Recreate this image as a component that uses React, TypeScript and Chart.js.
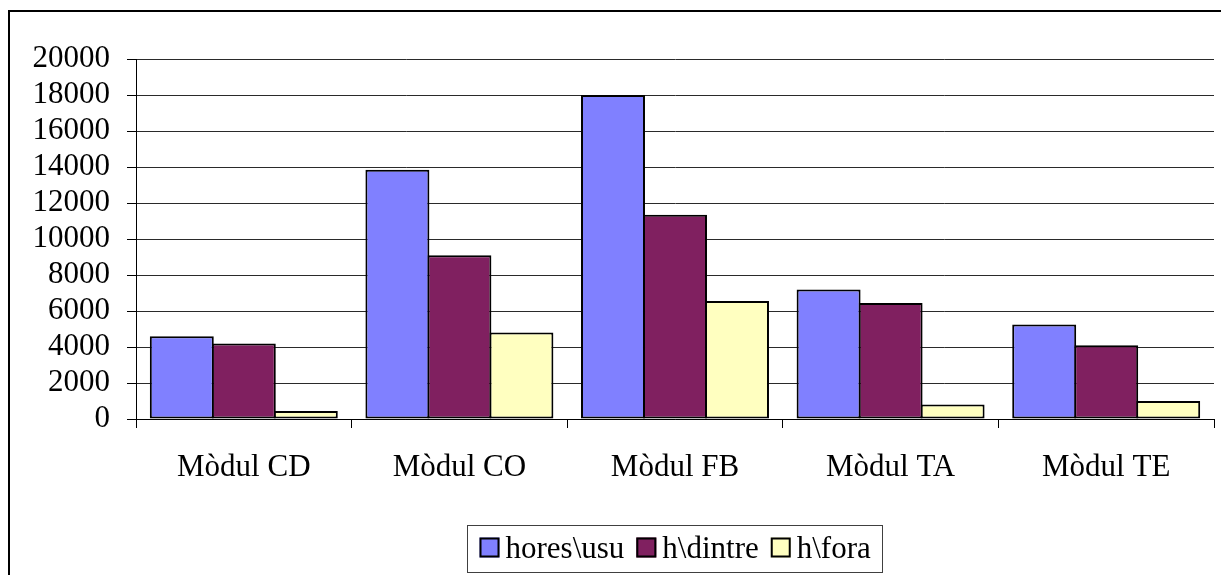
import React, { useEffect, useRef } from "react";
import { Chart, registerables } from "chart.js";

Chart.register(...registerables);

const categories = ["Mòdul CD", "Mòdul CO", "Mòdul FB", "Mòdul TA", "Mòdul TE"];
const seriesNames = ["hores\\usu", "h\\dintre", "h\\fora"];
const horesUsu = [4600, 13850, 18000, 7200, 5250];
const hDintre = [4200, 9100, 11350, 6450, 4100];
const hFora = [450, 4800, 6550, 800, 1000];
const seriesColors = ["#8080FF", "#802060", "#FFFFC0"];
const yMin = 0;
const yMax = 20000;
const yStep = 2000;

const FONT = '"Liberation Serif", "Times New Roman", serif';
const FSIZE = 31;

const legendPlugin = {
  id: "excelLegend",
  afterDraw(chart: any) {
    const { ctx, chartArea } = chart;
    const datasets = chart.data.datasets;
    ctx.save();
    ctx.font = `${FSIZE}px ${FONT}`;
    const box = 20;
    const gap = 6;
    const itemGap = 12;
    const padX = 12;
    const widths = datasets.map((d: any) => ctx.measureText(d.label).width);
    let total = 0;
    widths.forEach((w: number, i: number) => {
      total += box + gap + w + (i > 0 ? itemGap : 0);
    });
    const cx = (chartArea.left + chartArea.right) / 2;
    const boxLeft = Math.round(cx - total / 2 - padX) + 0.5;
    const boxTop = chartArea.bottom + 106 + 0.5;
    const boxW = Math.round(total + padX * 2);
    const boxH = 47;
    ctx.fillStyle = "#fff";
    ctx.fillRect(boxLeft, boxTop, boxW, boxH);
    ctx.strokeStyle = "#404040";
    ctx.lineWidth = 1;
    ctx.strokeRect(boxLeft, boxTop, boxW, boxH);
    let x = boxLeft + padX;
    const midY = boxTop + 22;
    ctx.textBaseline = "middle";
    ctx.textAlign = "left";
    datasets.forEach((d: any, i: number) => {
      ctx.fillStyle = d.backgroundColor;
      ctx.fillRect(x, midY - box / 2, box, box);
      ctx.strokeStyle = "#000";
      ctx.lineWidth = 2;
      ctx.strokeRect(x + 1, midY - box / 2 + 1, box - 2, box - 2);
      ctx.fillStyle = "#000";
      ctx.fillText(d.label, x + box + gap, midY + 2);
      x += box + gap + widths[i] + itemGap;
    });
    ctx.restore();
  },
};

export default function App() {
  const canvasRef = useRef<HTMLCanvasElement | null>(null);

  useEffect(() => {
    if (!canvasRef.current) return;
    const values = [horesUsu, hDintre, hFora];
    const chart = new Chart(canvasRef.current, {
      type: "bar",
      data: {
        labels: categories,
        datasets: values.map((v, i) => ({
          label: seriesNames[i],
          data: v,
          backgroundColor: seriesColors[i],
          borderColor: "#000",
          borderWidth: 2,
          borderSkipped: false,
          categoryPercentage: 0.8627,
          barPercentage: 1.032,
        })),
      },
      options: {
        animation: false,
        responsive: false,
        maintainAspectRatio: false,
        devicePixelRatio: 1,
        layout: { padding: { top: 59, right: 7, left: 0, bottom: 0 } },
        plugins: {
          legend: { display: false },
          tooltip: { enabled: false },
          title: { display: false },
        },
        scales: {
          x: {
            grid: {
              offset: true,
              drawOnChartArea: false,
              drawTicks: true,
              tickLength: 9,
              color: "#000",
              lineWidth: 1,
            },
            border: { display: true, color: "#000", width: 1 },
            ticks: {
              color: "#000",
              font: { family: FONT, size: FSIZE },
              padding: 21,
              maxRotation: 0,
              autoSkip: false,
            },
            afterFit: (s: any) => {
              s.height = 156;
            },
          },
          y: {
            min: yMin,
            max: yMax,
            ticks: {
              stepSize: yStep,
              autoSkip: false,
              color: "#000",
              font: { family: FONT, size: FSIZE },
              padding: 17,
              callback: (v: any) => String(v),
            },
            grid: {
              color: "#2a2a2a",
              tickColor: "#000",
              tickLength: 9,
              lineWidth: 1,
            },
            border: { display: true, color: "#000", width: 1 },
            afterFit: (s: any) => {
              s.width = 136;
            },
          },
        },
      },
      plugins: [legendPlugin],
    });
    return () => chart.destroy();
  }, []);

  return (
    <div
      style={{
        position: "fixed",
        left: 0,
        top: 0,
        width: 1221,
        height: 575,
        overflow: "hidden",
        background: "#fff",
      }}
    >
      <div
        style={{
          position: "absolute",
          left: 8,
          top: 10,
          width: 1400,
          height: 800,
          borderTop: "2px solid #000",
          borderLeft: "2px solid #000",
        }}
      />
      <canvas
        ref={canvasRef}
        width={1221}
        height={575}
        style={{ position: "absolute", left: 0, top: 0, width: 1221, height: 575 }}
      />
    </div>
  );
}
